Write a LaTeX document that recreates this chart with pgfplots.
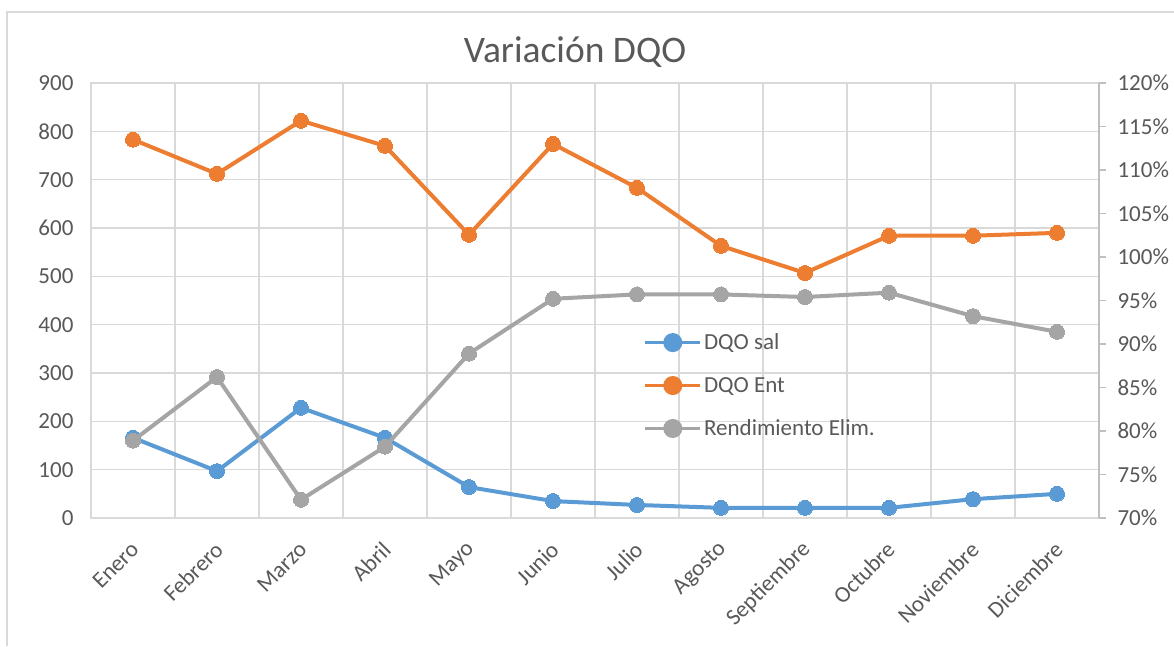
\documentclass[border=0pt]{standalone}
\usepackage{pgfplots}
\pgfplotsset{compat=1.18}
\usepackage{fontspec}
\setmainfont{Carlito}
\definecolor{cblue}{HTML}{5B9BD5}
\definecolor{corange}{HTML}{ED7D31}
\definecolor{cgray}{HTML}{A5A5A5}
\definecolor{ctext}{HTML}{595959}
\definecolor{cgrid}{HTML}{D9D9D9}
\definecolor{caxis}{HTML}{BFBFBF}
\pgfplotstableread{
x sal ent
1 166 783
2 97 712
3 228 822
4 166 770
5 64 586
6 35 774
7 27 683
8 21 563
9 21 507
10 21 584
11 39 584
12 50 590
}\dqo
\pgfplotstableread{
x rend
1 78.9
2 86.2
3 72.1
4 78.2
5 88.9
6 95.2
7 95.7
8 95.7
9 95.4
10 95.9
11 93.2
12 91.4
}\rend
\begin{document}
\begin{tikzpicture}[x=1pt,y=1pt]
\clip (0,0) rectangle (1174,646);
\fill[white] (0,0) rectangle (1174,646);
\draw[cgrid, line width=1.5pt] (7,0) -- (7,634) -- (1174,634);
\node[text=ctext, font=\fontsize{37.5}{44}\selectfont] at (575,594) {Variación DQO};
\begin{axis}[
  at={(91pt,128pt)}, anchor=south west, scale only axis,
  width=1008pt, height=435pt,
  xmin=0.5, xmax=12.5, ymin=0, ymax=900,
  xtick={1,...,12},
  xticklabels={Enero,Febrero,Marzo,Abril,Mayo,Junio,Julio,Agosto,Septiembre,Octubre,Noviembre,Diciembre},
  minor xtick={1.5,2.5,...,11.5},
  xminorgrids, minor grid style={cgrid, line width=1.2pt},
  ytick={0,100,...,900}, ymajorgrids, major grid style={cgrid, line width=1.2pt},
  major tick length=0pt, minor tick length=0pt,
  axis line style={cgrid, line width=1.2pt},
  tick label style={text=ctext, font=\fontsize{23}{27}\selectfont},
  /pgf/number format/assume math mode=true,
  yticklabel style={xshift=-14pt},
  xticklabel style={rotate=45, anchor=east, xshift=-15pt, yshift=-21pt},
  clip=false,
]
\addplot[cblue, line width=4pt, mark=*, mark size=7.5pt, mark options={fill=cblue, draw=cblue, line width=0pt}] table[x=x, y=sal] {\dqo};
\addplot[corange, line width=4pt, mark=*, mark size=7.5pt, mark options={fill=corange, draw=corange, line width=0pt}] table[x=x, y=ent] {\dqo};
\end{axis}
\begin{axis}[
  at={(91pt,128pt)}, anchor=south west, scale only axis,
  width=1008pt, height=435pt,
  xmin=0.5, xmax=12.5, ymin=70, ymax=120,
  axis x line=none, axis y line*=right,
  ytick={70,75,...,120},
  yticklabel={\pgfmathprintnumber{\tick}\%},
  /pgf/number format/assume math mode=true,
  tick align=outside, major tick length=7pt,
  every tick/.style={caxis, line width=1.2pt},
  axis line style={caxis, line width=1.2pt},
  tick label style={text=ctext, font=\fontsize{23}{27}\selectfont},
  yticklabel style={xshift=8pt},
  clip=false,
  legend style={at={(0.545,0.433)}, anchor=north west, draw=none, fill=none,
    font=\fontsize{23}{27}\selectfont, text=ctext, row sep=22pt,
    /tikz/every even column/.append style={column sep=2pt}},
  legend cell align=left,
  legend image code/.code={
    \draw[#1, mark=none, line width=3.5pt] (0pt,0pt) -- (55pt,0pt);
    \fill[#1] (27.5pt,0pt) circle (7.5pt);
  },
]
\addlegendimage{cblue, line width=4pt}
\addlegendentry{DQO sal}
\addlegendimage{corange, line width=4pt}
\addlegendentry{DQO Ent}
\addplot[cgray, line width=4pt, mark=*, mark size=7.5pt, mark options={fill=cgray, draw=cgray, line width=0pt}] table[x=x, y=rend] {\rend};
\addlegendentry{Rendimiento Elim.}
\end{axis}
\end{tikzpicture}
\end{document}
